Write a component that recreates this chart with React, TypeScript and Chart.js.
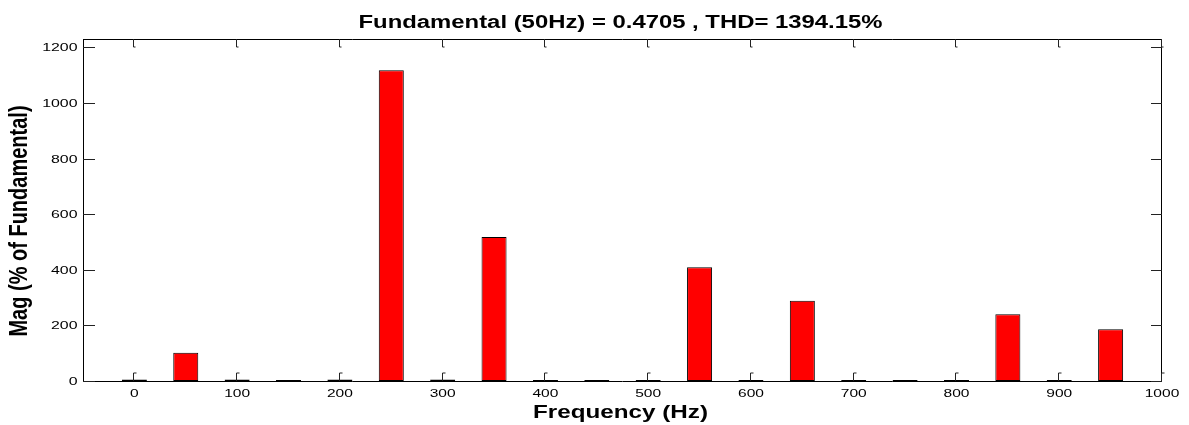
import React, { useEffect, useRef } from "react";
import { Chart, registerables } from "chart.js";

Chart.register(...registerables);

const frequencies = [0, 50, 100, 150, 200, 250, 300, 350, 400, 450, 500, 550, 600, 650, 700, 750, 800, 850, 900, 950];
const magnitudes = [5, 102, 5, 4, 5, 1118, 5, 518, 4, 4, 4, 409, 4, 289, 4, 4, 4, 240, 4, 186];
const xTickValues = [0, 100, 200, 300, 400, 500, 600, 700, 800, 900, 1000];
const yTickValues = [0, 200, 400, 600, 800, 1000, 1200];
const titleText = "Fundamental (50Hz) = 0.4705 , THD= 1394.15%";
const xTitle = "Frequency (Hz)";
const yTitle = "Mag (% of Fundamental)";

const FONT = '"Liberation Sans", Arial, Helvetica, sans-serif';

function stretchText(
  ctx: CanvasRenderingContext2D,
  text: string,
  x: number,
  y: number,
  sx: number,
  align: CanvasTextAlign
) {
  ctx.save();
  ctx.translate(x, y);
  ctx.scale(sx, 1);
  ctx.textAlign = align;
  ctx.textBaseline = "alphabetic";
  ctx.fillText(text, 0, 0);
  ctx.restore();
}

const overlay = {
  id: "matlabOverlay",
  afterDraw(chart: any) {
    const ctx: CanvasRenderingContext2D = chart.ctx;
    const { left, right, top, bottom } = chart.chartArea;
    const xs = chart.scales.x;
    const ys = chart.scales.y;
    ctx.save();
    ctx.strokeStyle = "#000";
    ctx.lineWidth = 1;
    // box
    ctx.beginPath();
    ctx.moveTo(left, top + 0.5);
    ctx.lineTo(right, top + 0.5);
    ctx.moveTo(left, bottom + 0.5);
    ctx.lineTo(right, bottom + 0.5);
    ctx.moveTo(left + 0.5, top);
    ctx.lineTo(left + 0.5, bottom + 1);
    ctx.moveTo(right - 0.5, top);
    ctx.lineTo(right - 0.5, bottom + 1);
    ctx.stroke();

    // ticks
    ctx.strokeStyle = "#222";
    ctx.beginPath();
    for (const t of xs.ticks) {
      const px = Math.round(xs.getPixelForValue(t.value)) - 0.5;
      ctx.moveTo(px, top);
      ctx.lineTo(px, top + 8);
      ctx.lineTo(px + 2, top + 8);
      ctx.moveTo(px, bottom);
      ctx.lineTo(px, bottom - 8);
      ctx.lineTo(px + 3, bottom - 8);
    }
    for (const t of ys.ticks) {
      const py = Math.round(ys.getPixelForValue(t.value)) + 0.5;
      ctx.moveTo(left, py);
      ctx.lineTo(left + 12, py);
      ctx.moveTo(right, py);
      ctx.lineTo(right - 11, py);
    }
    ctx.stroke();

    // tick labels
    ctx.fillStyle = "#000";
    ctx.font = `11.5px ${FONT}`;
    for (const t of xs.ticks) {
      const px = xs.getPixelForValue(t.value);
      stretchText(ctx, String(t.value), px, 397, 1.35, "center");
    }
    for (const t of ys.ticks) {
      const py = ys.getPixelForValue(t.value);
      stretchText(ctx, String(t.value), left - 5.5, py + 4, 1.38, "right");
    }

    // title
    ctx.font = `bold 18px ${FONT}`;
    stretchText(ctx, titleText, (left + right) / 2 - 2, 28, 1.326, "center");
    // x title
    stretchText(ctx, xTitle, (left + right) / 2 - 2, 418, 1.346, "center");
    // y title (rotated)
    ctx.save();
    ctx.font = `bold 20px ${FONT}`;
    ctx.translate(27, (top + bottom) / 2 + 11);
    ctx.scale(1.28, 1);
    ctx.rotate(-Math.PI / 2);
    ctx.textAlign = "center";
    ctx.textBaseline = "alphabetic";
    ctx.fillText(yTitle, 0, 0);
    ctx.restore();

    ctx.restore();
  },
};

export default function App() {
  const canvasRef = useRef<HTMLCanvasElement | null>(null);

  useEffect(() => {
    if (!canvasRef.current) return;
    const chart = new Chart(canvasRef.current, {
      type: "bar",
      data: {
        datasets: [
          {
            data: frequencies.map((f, i) => ({ x: f, y: magnitudes[i] })),
            backgroundColor: "#ff0000",
            borderColor: "#000",
            borderWidth: 1,
            borderSkipped: false,
            barPercentage: 0.487,
            categoryPercentage: 1.0,
          },
        ],
      },
      options: {
        animation: false,
        responsive: false,
        devicePixelRatio: 1,
        layout: { padding: { top: 39, right: 27, left: 0, bottom: 0 } },
        plugins: {
          legend: { display: false },
          title: { display: false },
          tooltip: { enabled: false },
        },
        scales: {
          x: {
            type: "linear",
            offset: false,
            min: -50,
            max: 1000,
            grid: { display: false, offset: false },
            border: { display: false },
            ticks: { display: false },
            afterBuildTicks: (scale: any) => {
              scale.ticks = xTickValues.map((v) => ({ value: v }));
            },
            afterFit: (scale: any) => {
              scale.height = 44;
            },
          },
          y: {
            type: "linear",
            min: 0,
            max: 1230,
            grid: { display: false },
            border: { display: false },
            ticks: { display: false },
            afterBuildTicks: (scale: any) => {
              scale.ticks = yTickValues.map((v) => ({ value: v }));
            },
            afterFit: (scale: any) => {
              scale.width = 83;
            },
          },
        },
      },
      plugins: [overlay],
    } as any);
    return () => chart.destroy();
  }, []);

  return (
    <div style={{ position: "absolute", left: 0, top: 0, width: 1189, height: 425, background: "#fff" }}>
      <canvas ref={canvasRef} width={1189} height={425} style={{ display: "block" }} />
    </div>
  );
}
